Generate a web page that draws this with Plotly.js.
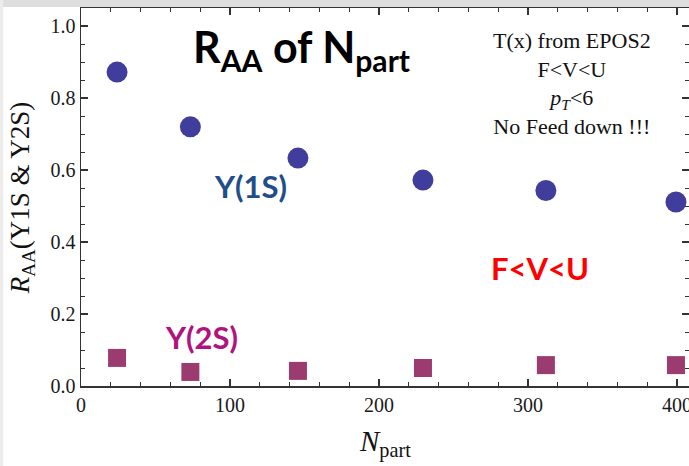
<!DOCTYPE html>
<html>
<head>
<meta charset="utf-8">
<script src="https://cdn.plot.ly/plotly-3.0.1.min.js"></script>
<style>html,body{margin:0;padding:0;background:#fff;}</style>
</head>
<body>
<div id="chart" style="width:689px;height:466px;"></div>
<script>
// Data
const npart = [24.2, 73.4, 145.6, 229.5, 312, 399.3];
const raa1S = [0.872, 0.720, 0.633, 0.572, 0.543, 0.511];
const raa2S = [0.078, 0.039, 0.042, 0.050, 0.058, 0.058];
const xTicks = [0, 100, 200, 300, 400];
const yTicks = [0.0, 0.2, 0.4, 0.6, 0.8, 1.0];
const yTickText = ['0.0', '0.2', '0.4', '0.6', '0.8', '1.0'];

const serif = '"Liberation Serif", "Times New Roman", serif';
const sans = 'Lato, "Open Sans", sans-serif';

const traces = [
  {
    x: npart, y: raa1S, type: 'scatter', mode: 'markers', name: 'Y(1S)',
    marker: {symbol: 'circle', size: 21, color: '#403d9c', line: {width: 0}}
  },
  {
    x: npart, y: raa2S, type: 'scatter', mode: 'markers', name: 'Y(2S)',
    marker: {symbol: 'square', size: 18, color: '#9b3b70', line: {width: 0}}
  }
];

const layout = {
  width: 689, height: 466,
  margin: {l: 81, r: 0, t: 8, b: 80, pad: 0},
  paper_bgcolor: '#ffffff', plot_bgcolor: '#ffffff',
  showlegend: false,
  xaxis: {
    range: [0, 408.05], tickvals: xTicks, ticktext: xTicks.map(String),
    ticks: 'inside', ticklen: 7, tickwidth: 1.2, tickcolor: '#333',
    showline: true, linecolor: '#333', linewidth: 1.5, mirror: 'ticks',
    showgrid: false, zeroline: false, ticklabeloverflow: 'allow',
    minor: {dtick: 20, tick0: 0, ticks: 'inside', ticklen: 4, tickwidth: 1, tickcolor: '#333', showgrid: false},
    tickfont: {family: serif, size: 20, color: '#1a1a1a'}
  },
  yaxis: {
    range: [0, 1.05], tickvals: yTicks, ticktext: yTickText,
    ticks: 'inside', ticklen: 7, tickwidth: 1.2, tickcolor: '#333',
    showline: true, linecolor: '#333', linewidth: 1.5, mirror: 'ticks',
    showgrid: false, zeroline: false, ticklabeloverflow: 'allow',
    minor: {dtick: 0.05, tick0: 0, ticks: 'inside', ticklen: 4, tickwidth: 1, tickcolor: '#333', showgrid: false},
    tickfont: {family: serif, size: 20, color: '#1a1a1a'}
  },
  shapes: [
    {type: 'rect', xref: 'paper', yref: 'paper', x0: -0.14, x1: 1.01, y0: 1.0026, y1: 1.03,
     fillcolor: '#dedede', line: {width: 0}, layer: 'below'},
    {type: 'rect', xref: 'paper', yref: 'paper', x0: -0.14, x1: -0.128, y0: -0.23, y1: 1.03,
     fillcolor: '#ececec', line: {width: 0}, layer: 'below'}
  ],
  annotations: [
    {text: 'R<sub>AA</sub> of N<sub>part</sub>', xref: 'x', yref: 'y', x: 148, y: 0.935,
     showarrow: false, xanchor: 'center', yanchor: 'middle',
     font: {family: sans, size: 43, color: '#000', weight: 'bold'}},
    {text: 'T(x) from EPOS2<br>F&lt;V&lt;U<br><i>p</i><sub><i>T</i></sub>&lt;6<br>No Feed down !!!',
     xref: 'x', yref: 'y', x: 329.5, y: 0.84, showarrow: false, xanchor: 'center', yanchor: 'middle',
     align: 'center', font: {family: serif, size: 22, color: '#111'}},
    {text: 'Y(1S)', xref: 'x', yref: 'y', x: 114, y: 0.556, showarrow: false,
     font: {family: sans, size: 31, color: '#1f4e8a', weight: 'bold'}},
    {text: 'Y(2S)', xref: 'x', yref: 'y', x: 81, y: 0.136, showarrow: false,
     font: {family: sans, size: 31, color: '#b0127f', weight: 'bold'}},
    {text: 'F&lt;V&lt;U', xref: 'x', yref: 'y', x: 308, y: 0.328, showarrow: false,
     font: {family: sans, size: 31, color: '#ff0000', weight: 'bold'}},
    {text: '<i>N</i><sub>part</sub>', xref: 'paper', yref: 'paper', x: 0.5, y: -0.151,
     showarrow: false, xanchor: 'center', yanchor: 'middle',
     font: {family: serif, size: 29, color: '#111'}},
    {text: '<i>R</i><sub>AA</sub>(Y1S &amp; Y2S)', xref: 'paper', yref: 'paper', x: -0.097, y: 0.497,
     showarrow: false, xanchor: 'center', yanchor: 'middle', textangle: -90,
     font: {family: serif, size: 27, color: '#111'}}
  ]
};

Plotly.newPlot('chart', traces, layout, {displayModeBar: false, staticPlot: true});
</script>
</body>
</html>
